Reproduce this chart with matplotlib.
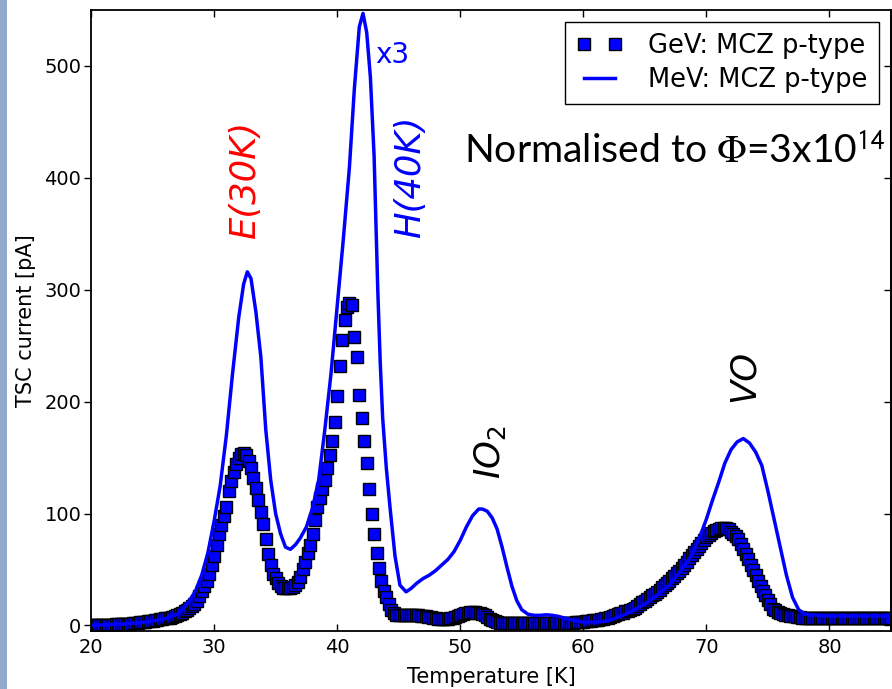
import numpy as np
import matplotlib
matplotlib.use('Agg')
import matplotlib.pyplot as plt
from matplotlib.patches import Rectangle

# GeV: MCZ p-type, one reading every 0.2 K from 20 K to 85 K
gev_temp = np.arange(20, 85.001, 0.2)
gev_current = [
    0, 0, 0, 0, 0, 0, 0, 0.5, 0.5, 0.5,                  # 20.0 - 21.8
    1, 1, 1, 1, 1.5, 1.5, 1.5, 2, 2, 2.5,                # 22
    3, 3, 3, 3.5, 4, 4, 4.5, 5, 5.5, 6,                  # 24
    6.5, 7, 7, 7.5, 8, 9, 10, 11, 12.5, 14,              # 26
    16, 17.5, 19, 22, 26, 31, 35, 40, 46, 54,            # 28
    62, 72, 82, 90, 98, 106, 120, 129, 137, 144,         # 30
    150, 153, 154, 152, 147, 141, 132, 123, 112, 101,    # 32
    91, 77, 64, 54, 46, 42, 38, 35, 33, 33,              # 34
    33, 33.5, 34, 36, 39, 43, 50, 57, 65, 72,            # 36
    82, 94, 106, 114, 122, 130, 141, 152, 165, 182,      # 38
    205, 232, 255, 273, 285, 288, 286, 258, 240, 206,    # 40
    185, 165, 145, 122, 100, 82, 65, 51, 40, 31,         # 42
    25, 19, 14, 11, 9.5, 9, 9, 9, 9, 9,                  # 44
    9, 9, 9, 9, 8.5, 8, 8, 7.5, 7.5, 7,                  # 46
    6.5, 6, 6, 6, 6, 6, 6.5, 7, 7.5, 8,                  # 48
    9, 10, 11, 11.5, 12, 12, 12, 11.5, 11, 10,           # 50
    9, 7.5, 6, 5, 4, 3, 2.5, 2.5, 2, 2,                  # 52
    2, 2, 2, 2, 2, 2, 2, 2, 2, 2,                        # 54
    2, 2, 2, 2, 2, 2, 2, 2, 2, 2,                        # 56
    2, 2, 2, 2.5, 2.5, 2.5, 2.5, 3, 3, 3,                # 58
    3, 3.5, 3.5, 4, 4.5, 5, 5, 5.5, 6, 6.5,              # 60
    7, 7.5, 8.5, 9, 10, 11, 11.5, 12.5, 13, 14,          # 62
    15, 16, 17.5, 19, 20.5, 22, 24, 25.5, 27, 28.5,      # 64
    30, 32, 34, 36, 38, 40, 42, 44, 46.5, 49,            # 66
    51, 54, 57, 60, 63, 66, 68.5, 71, 73.5, 76,          # 68
    79, 81, 82.5, 84, 85.5, 86.5, 87, 87, 87, 86,        # 70
    83.5, 81.5, 79.5, 77, 73, 68.5, 64, 59, 54, 49.5,    # 72
    45, 40, 35, 31, 27, 23, 19, 15, 13.5, 12,            # 74
    11, 10, 9.5, 9, 8.5, 8, 8, 7.5, 7.5, 7,              # 76
    7, 7, 7, 7, 7, 7, 7, 7, 7, 7,                        # 78
    7, 7, 7, 7, 7, 7, 7, 7, 7, 7,                        # 80
    7, 7, 7, 7, 7, 7, 7, 7, 7, 7,                        # 82
    7, 7, 7, 7, 7, 7,                                    # 84.0 - 85.0
]

# MeV: MCZ p-type (x3)
mev_temp = [20.0, 21.0, 22.0, 23.0, 24.0, 25.0, 26.0, 26.5, 27.0, 27.5,
            28.0, 28.5, 29.0, 29.5, 30.0, 30.5, 31.0, 31.5, 32.0, 32.4,
            32.7, 33.0, 33.4, 33.8, 34.2, 34.6, 35.0, 35.4, 35.8, 36.2,
            36.6, 37.0, 37.5, 38.0, 38.5, 39.0, 39.5, 40.0, 40.5, 41.0,
            41.4, 41.8, 42.1, 42.4, 42.7, 43.0, 43.3, 43.5, 43.7, 44.0,
            44.3, 44.7, 45.1, 45.6, 46.0, 46.5, 47.0, 47.5, 48.0, 48.5,
            49.0, 49.5, 50.0, 50.5, 51.0, 51.5, 51.8, 52.2, 52.6, 53.0,
            53.4, 53.8, 54.2, 54.6, 55.0, 55.5, 56.0, 56.5, 57.0, 57.5,
            58.0, 58.5, 59.0, 59.5, 60.0, 61.0, 62.0, 63.0, 64.0, 65.0,
            66.0, 67.0, 68.0, 68.5, 69.0, 69.5, 70.0, 70.5, 71.0, 71.5,
            72.0, 72.5, 73.0, 73.5, 74.0, 74.5, 75.0, 75.5, 76.0, 76.5,
            77.0, 77.5, 78.0, 79.0, 80.0, 82.0, 85.0]
mev_current = [0, 0.5, 1, 1.5, 2.5, 4, 6, 8, 10, 15,
               22, 31, 45, 65, 93, 125, 170, 225, 275, 305,
               316, 310, 280, 240, 175, 130, 100, 82, 70, 68,
               72, 78, 88, 105, 130, 175, 225, 285, 345, 410,
               480, 535, 547, 530, 490, 420, 300, 235, 185, 140,
               105, 62, 36, 30, 33, 38, 42, 45, 49, 54,
               59, 66, 76, 88, 98, 104, 104, 102, 96, 86,
               70, 52, 35, 22, 14, 10, 9, 9, 9.5, 9,
               8, 6.5, 5, 4, 3, 3, 4, 8, 13, 19,
               27, 36, 50, 58, 67, 80, 95, 112, 128, 145,
               157, 164, 167, 163, 155, 143, 120, 95, 70, 45,
               25, 14, 10, 9, 8.5, 8.5, 8.5]

x_ticks = [20, 30, 40, 50, 60, 70, 80]
y_ticks = [0, 100, 200, 300, 400, 500]

fig = plt.figure(figsize=(8.92, 6.89), dpi=100)
fig.patches.append(Rectangle((0, 0), 7 / 892, 1, transform=fig.transFigure,
                             facecolor='#8faacc', edgecolor='none'))
ax = fig.add_axes([91 / 892, 58 / 689, 800 / 892, 621 / 689])

ax.plot(gev_temp, gev_current, 's', color='#0000ff', markersize=8.5,
        markeredgecolor='black', markeredgewidth=1.0, label='GeV: MCZ p-type')
ax.plot(mev_temp, mev_current, '-', color='#0000ff', linewidth=2.5,
        label='MeV: MCZ p-type')

ax.set_xlim(20, 85)
ax.set_ylim(-5, 550)
ax.set_xticks(x_ticks)
ax.set_yticks(y_ticks)
ax.tick_params(axis='x', direction='in', top=True, length=5, width=1,
               labelsize=14, pad=5)
ax.tick_params(axis='y', direction='out', right=False, length=5, width=1,
               labelsize=14, pad=2)
sec = ax.secondary_yaxis('right')
sec.set_yticks(y_ticks)
sec.tick_params(direction='in', length=5, width=1, labelright=False)
for s in list(ax.spines.values()) + [sec.spines['right']]:
    s.set_linewidth(1.3)

ax.set_xlabel('Temperature [K]', fontsize=15, labelpad=7)
ax.set_ylabel('TSC current [pA]', fontsize=15, labelpad=6)

ax.text(32.5, 398, 'E(30K)', color='red', fontsize=25.5, style='italic',
        rotation=90, ha='center', va='center')
ax.text(45.9, 401, 'H(40K)', color='#0000ff', fontsize=25.5, style='italic',
        rotation=90, ha='center', va='center')
ax.text(44.5, 510, 'x3', color='#0000ff', fontsize=20, ha='center', va='center')
ax.text(52.4, 155, 'IO$_2$', color='black', fontsize=25.5, style='italic',
        rotation=90, ha='center', va='center')
ax.text(73.0, 223, 'VO', color='black', fontsize=25.5, style='italic',
        rotation=90, ha='center', va='center')

plt.rcParams['mathtext.fontset'] = 'stix'
ax.text(0.466, 0.754, r'Normalised to $\Phi$=3x10$^{\mathsf{14}}$',
        transform=ax.transAxes, fontfamily='Lato', fontsize=28.2,
        ha='left', va='baseline')

leg = ax.legend(loc='upper right', numpoints=2, fontsize=18.5, fancybox=False,
                edgecolor='black', framealpha=1, borderaxespad=0.45,
                handlelength=1.8, handletextpad=1.0, labelspacing=0.3,
                borderpad=0.45)
leg.get_frame().set_linewidth(1.0)

fig.savefig('out.png', dpi=100)
